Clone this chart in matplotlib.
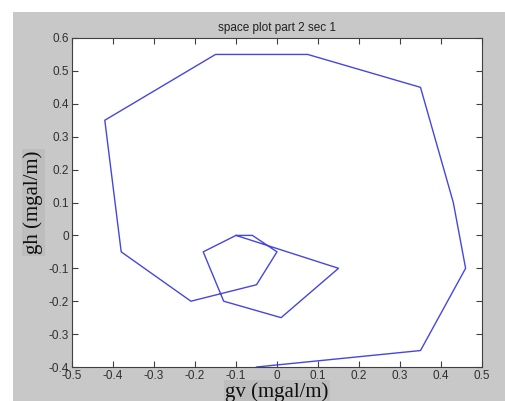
import matplotlib
matplotlib.use("Agg")
import matplotlib.pyplot as plt
from matplotlib.patches import Rectangle

# data
gv = [-0.05, 0.35, 0.46, 0.43, 0.35, 0.075, -0.15, -0.42, -0.38, -0.21, -0.05,
      0.0, -0.06, -0.10, -0.18, -0.13, 0.01, 0.15, -0.10]
gh = [-0.40, -0.35, -0.10, 0.10, 0.45, 0.55, 0.55, 0.35, -0.05, -0.20, -0.15,
      -0.05, 0.0, 0.0, -0.05, -0.20, -0.25, -0.10, 0.0]
xticks = [-0.5, -0.4, -0.3, -0.2, -0.1, 0, 0.1, 0.2, 0.3, 0.4, 0.5]
yticks = [-0.4, -0.3, -0.2, -0.1, 0, 0.1, 0.2, 0.3, 0.4, 0.5, 0.6]
xtick_labels = ["-0.5", "-0.4", "-0.3", "-0.2", "-0.1", "0", "0.1", "0.2", "0.3", "0.4", "0.5"]
ytick_labels = ["-0.4", "-0.3", "-0.2", "-0.1", "0", "0.1", "0.2", "0.3", "0.4", "0.5", "0.6"]

W, H = 506, 401
fig = plt.figure(figsize=(W / 100, H / 100), dpi=100, facecolor="white")
bg = Rectangle((13 / W, 0), 1 - 13 / W, 1 - 12 / H,
               transform=fig.transFigure, facecolor="#c8c8c8",
               edgecolor="none", zorder=-10)
fig.add_artist(bg)

ax = fig.add_axes([72 / W, (H - 367) / H, 410 / W, 329 / H])
ax.set_zorder(1)
ax.set_facecolor("white")
ax.plot(gv, gh, color="#4646e0", linewidth=1.0)
ax.set_xlim(-0.5, 0.5)
ax.set_ylim(-0.4, 0.6)
ax.set_xticks(xticks)
ax.set_xticklabels(xtick_labels)
ax.set_yticks(yticks)
ax.set_yticklabels(ytick_labels)
for s in ax.spines.values():
    s.set_color("#404040")
    s.set_linewidth(0.8)
ax.tick_params(direction="in", length=4, width=0.8, color="#404040",
               top=True, right=True, labelsize=8.5, labelcolor="#303030", pad=2)
for lab in ax.get_xticklabels() + ax.get_yticklabels():
    lab.set_family("Liberation Sans")

ax.set_title("space plot part 2 sec 1", fontsize=8.5, family="Liberation Sans",
             color="#202020", pad=5)
ax.set_xlabel("gv (mgal/m)", fontsize=15, family="Liberation Serif", color="#101010",
              labelpad=0,
              bbox=dict(facecolor="#bdbdbd", edgecolor="none", pad=1))
ax.set_ylabel("gh (mgal/m)", fontsize=15, family="Liberation Serif", color="#101010",
              labelpad=4,
              bbox=dict(facecolor="#bdbdbd", edgecolor="none", pad=1))

fig.savefig("out.png", dpi=100, facecolor=fig.get_facecolor())
